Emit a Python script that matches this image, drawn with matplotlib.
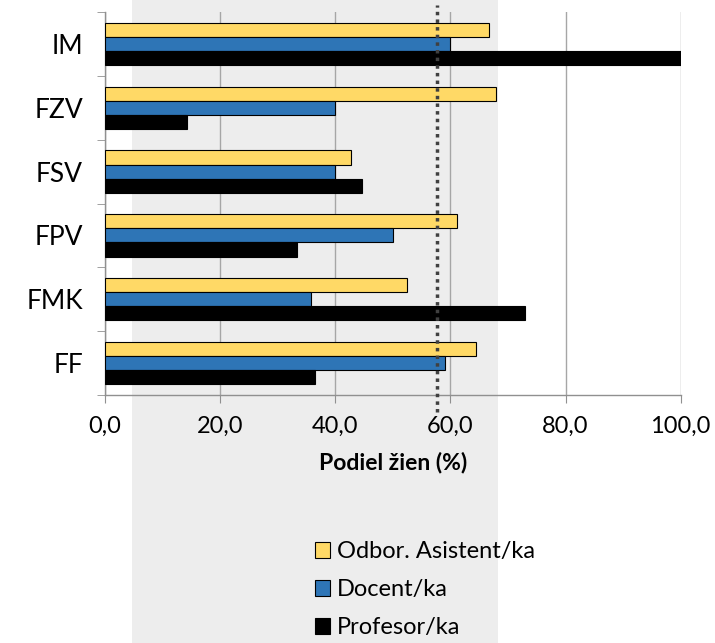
import matplotlib.pyplot as plt
import matplotlib.transforms as mtransforms
from matplotlib.patches import Rectangle, Patch
import numpy as np

plt.rcParams['font.family'] = ['Lato', 'DejaVu Sans']

# data
fakulty = ['FF', 'FMK', 'FPV', 'FSV', 'FZV', 'IM']
asistent = [64.5, 52.4, 61.1, 42.8, 68.0, 66.7]
docent = [59.1, 35.7, 50.0, 40.0, 40.0, 60.0]
profesor = [36.4, 72.9, 33.3, 44.6, 14.3, 100.0]
series_names = ['Odbor. Asistent/ka', 'Docent/ka', 'Profesor/ka']
priemer = 57.6
pasmo = (4.7, 68.2)

colors = ['#FFD966', '#2E75B6', '#000000']

fig = plt.figure(figsize=(7.15, 6.43), dpi=100)
ax = fig.add_axes([0.147, 0.386, 0.805, 0.595])
ax.set_facecolor('none')

# grey band behind everything (full figure height)
trans = mtransforms.blended_transform_factory(ax.transData, fig.transFigure)
band = Rectangle((pasmo[0], 0), pasmo[1] - pasmo[0], 1, transform=trans,
                 facecolor='#ededed', edgecolor='none', zorder=-10)
fig.patches.append(band)

y = np.arange(len(fakulty))
h = 0.222
for k, (vals, c) in enumerate(zip([asistent, docent, profesor], colors)):
    ax.barh(y + (1 - k) * h, vals, height=h, color=c, edgecolor='black',
            linewidth=0.8, zorder=3)

ax.set_xlim(0, 100)
ax.set_ylim(-0.5, len(fakulty) - 0.5)
ticks = np.arange(0, 101, 20)
ax.set_xticks(ticks)
ax.set_xticklabels([('%.1f' % v).replace('.', ',') for v in ticks])
ax.set_yticks(y)
ax.set_yticklabels(fakulty)
ax.set_yticks(np.arange(-0.5, len(fakulty), 1), minor=True)
ax.tick_params(axis='y', which='major', length=0, labelsize=19, pad=16)
ax.tick_params(axis='y', which='minor', length=6, color='#909090', direction='out')
ax.tick_params(axis='x', length=6, color='#909090', labelsize=17, pad=9)

ax.grid(axis='x', color='#a6a6a6', linewidth=1, zorder=0)
for s in ['top', 'right']:
    ax.spines[s].set_visible(False)
for s in ['left', 'bottom']:
    ax.spines[s].set_color('#909090')
    ax.spines[s].set_linewidth(1)

ax.axvline(priemer, ymin=-0.044, ymax=1.018, color='#404040', linestyle=(0, (1, 1.2)),
           linewidth=2.5, zorder=5, clip_on=False)

ax.set_xlabel('Podiel žien (%)', fontsize=16.5, fontweight='bold', labelpad=11)

handles = [Patch(facecolor=c, edgecolor='black', linewidth=0.8) for c in colors]
fig.legend(handles, series_names, loc='upper left', bbox_to_anchor=(0.44, 0.158),
           frameon=False, fontsize=17, handlelength=0.65, handleheight=0.65,
           handletextpad=0.3, labelspacing=0.72, borderaxespad=0, borderpad=0)

fig.savefig('out.png', dpi=100)
